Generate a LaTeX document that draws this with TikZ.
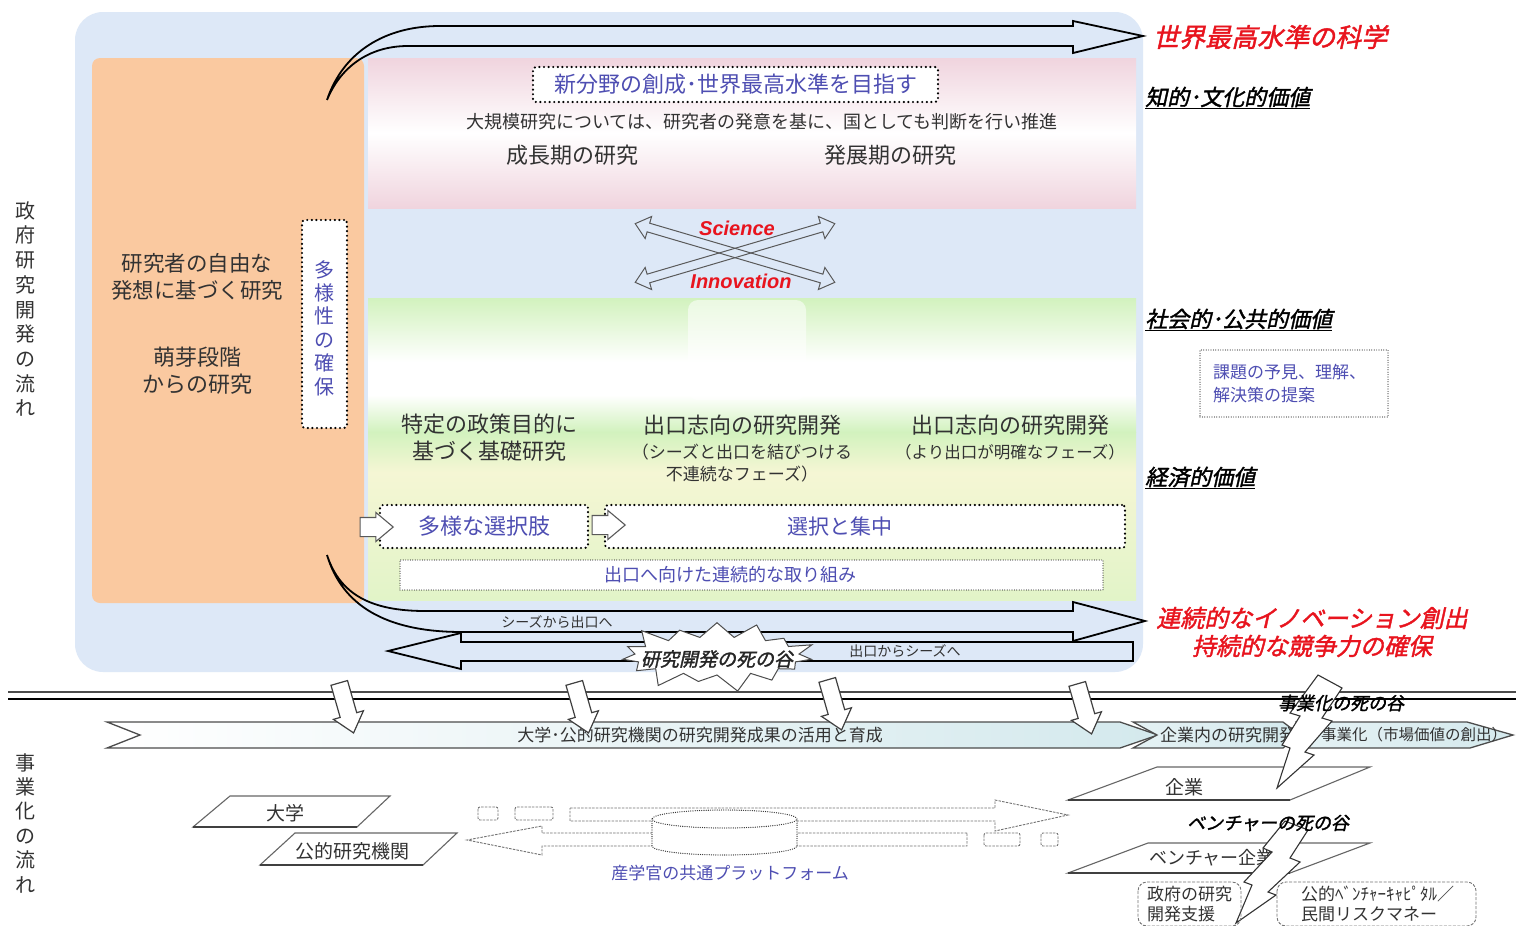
\documentclass[tikz,border=0pt]{standalone}
\usepackage{fontspec}
\setmainfont{Noto Sans CJK JP}
\newfontfamily\jpbi[FakeSlant=0.22,FakeBold=1.6]{Noto Sans CJK JP}
\newfontfamily\libsans{Liberation Sans}
\usetikzlibrary{shapes.arrows,shapes.symbols}
\newcommand\fsz[2]{\fontsize{#1}{#2}\selectfont}
\definecolor{bgblue}{RGB}{221,232,247}
\definecolor{orng}{RGB}{250,201,160}
\definecolor{pinkb}{RGB}{240,212,222}
\definecolor{greenb}{RGB}{210,242,190}
\definecolor{yellb}{RGB}{245,246,212}
\definecolor{txtb}{RGB}{78,78,178}
\definecolor{txtg}{RGB}{50,50,50}
\definecolor{redt}{RGB}{232,20,30}
\definecolor{band}{RGB}{212,233,237}
\begin{document}
\begin{tikzpicture}[x=1pt,y=-1pt,
  every node/.style={inner sep=0pt, text=txtg},
  dotbox/.style={draw=black, line width=2.4pt, dash pattern=on 0pt off 4.6pt, line cap=round, fill=white, rounded corners=3pt},
  thindot/.style={draw=black!75, line width=1.2pt, dash pattern=on 0pt off 2.4pt, line cap=round, fill=white},
  hollow/.style={draw=black, line width=1.8pt, line join=miter},
  vlab/.style={anchor=west, text=black, font={\jpbi\fsz{22}{26}}},
  redlab/.style={text=redt, font={\jpbi\fsz{24}{28}}},
  downarrow/.style={single arrow, draw=black!75, fill=white, line width=1.2pt, minimum height=52pt, single arrow head extend=7pt, single arrow tip angle=80, rotate=-74},
  smallarrow/.style={single arrow, draw=black!65, fill=white, line width=1.1pt, minimum height=33pt, single arrow head extend=5pt, single arrow tip angle=80},
  xarrow/.style={double arrow, draw=black!65, line width=1pt, minimum height=208pt, double arrow head extend=7pt, double arrow tip angle=80},
  pgram/.style={draw=black!60, fill=white, line width=1.1pt},
  pshadow/.style={draw=black!75, line width=2pt},
  bolt/.style={draw=black!80, fill=white, line width=1.1pt, line join=miter},
  chev/.style={draw=black!70, line width=1.3pt},
  platdash/.style={draw=black!55, line width=0.9pt, dash pattern=on 2.5pt off 1.2pt},
  cyl/.style={draw=black!80, line width=1.3pt, dash pattern=on 0pt off 2.2pt, line cap=round},
  rbox/.style={draw=black!55, line width=0.9pt, dash pattern=on 3pt off 1.5pt, rounded corners=9pt}
]
\useasboundingbox (0,0) rectangle (1529,926);
\fill[white] (0,0) rectangle (1529,926);
% ---------- upper region backgrounds
\fill[bgblue, rounded corners=28pt] (75,12) rectangle (1143,672);
\fill[orng, rounded corners=8pt] (92,58) rectangle (364,603);
\shade[top color=pinkb, bottom color=pinkb, middle color=white] (368,58) rectangle (1136,208);
\shade[top color=greenb, bottom color=white] (368,298) rectangle (1136,362);
\fill[white] (368,362) rectangle (1136,395);
\shade[top color=white, bottom color=greenb] (368,395) rectangle (1136,432);
\shade[top color=greenb, bottom color=yellb] (368,432) rectangle (1136,472);
\shade[top color=yellb, bottom color=greenb!55!yellb] (368,472) rectangle (1136,600);
\fill[white, opacity=0.55, rounded corners=10pt] (688,300) rectangle (806,400);
% ---------- big curved arrows
\draw[hollow] (327,100) .. controls (343,52) and (385,26) .. (440,26) -- (1073,26) -- (1073,21) -- (1143,36) -- (1073,53) -- (1073,46) -- (408,46) .. controls (368,46) and (340,68) .. (327,100);
\draw[hollow] (327,555) .. controls (340,595) and (372,611) .. (425,611) -- (1073,611) -- (1073,602) -- (1145,621) -- (1073,641) -- (1073,632) -- (462,632) .. controls (385,632) and (342,605) .. (327,555);
\draw[hollow, fill=bgblue] (1133,642) -- (461,642) -- (461,633) -- (388,651) -- (461,669) -- (461,661) -- (1133,661) -- cycle;
\node[font=\fsz{14}{16}] (s2e) at (557,622) {シーズから出口へ};
\node[font=\fsz{14}{16}] (e2s) at (905,651) {出口からシーズへ};
% ---------- top band texts
\node[dotbox, minimum width=405pt, minimum height=35pt, text=txtb, font=\fsz{22}{26}] (newfield) at (735.5,84.5) {新分野の創成･世界最高水準を目指す};
\node[font=\fsz{18}{22}] (large) at (762,122) {大規模研究については、研究者の発意を基に、国としても判断を行い推進};
\node[font=\fsz{22}{26}] (growth) at (572,155) {成長期の研究};
\node[font=\fsz{22}{26}] (devel) at (890,155) {発展期の研究};
% ---------- orange texts
\node[align=center, font=\fsz{21.5}{27}] (free) at (197,277) {研究者の自由な\\発想に基づく研究};
\node[align=center, font=\fsz{22}{27}] (sprout) at (197,371) {萌芽段階\\からの研究};
\node[dotbox, minimum width=45pt, minimum height=208pt] (divbox) at (324.5,324) {};
\node[align=center, text=txtb, font=\fsz{20}{23.4}] (divt) at (324.5,328) {多\\様\\性\\の\\確\\保};
% ---------- science / innovation
\node[xarrow, rotate=-16.4] (xa) at (735,253) {\rule{0pt}{8pt}};
\node[xarrow, rotate=16.4] (xb) at (735,253) {\rule{0pt}{8pt}};
\node[text=redt, font={\libsans\bfseries\itshape\fsz{20}{24}}] (sci) at (737,228) {Science};
\node[text=redt, font={\libsans\bfseries\itshape\fsz{20}{24}}] (inn) at (741,281) {Innovation};
% ---------- green band texts
\node[align=center, font=\fsz{22}{27}] (policy) at (489,438) {特定の政策目的に\\基づく基礎研究};
\node[font=\fsz{22}{26}] (exit1) at (742,425) {出口志向の研究開発};
\node[align=center, font=\fsz{17}{22}] (exit1s) at (742,463) {（シーズと出口を結びつける\\不連続なフェーズ）};
\node[font=\fsz{22}{26}] (exit2) at (1010,425) {出口志向の研究開発};
\node[font=\fsz{16.5}{20}] (exit2s) at (1010,452) {（より出口が明確なフェーズ）};
% ---------- selection boxes
\node[dotbox, minimum width=208pt, minimum height=43pt, text=txtb, font=\fsz{22}{26}] (choice) at (484,526.5) {多様な選択肢};
\node[dotbox, minimum width=520pt, minimum height=43pt] (select) at (865,526.5) {};
\node[text=txtb, font=\fsz{21}{26}] (selectt) at (840,527) {選択と集中};
\node[smallarrow] (ar1) at (371,527) {\rule{0pt}{18pt}};
\node[smallarrow] (ar2) at (603,525) {\rule{0pt}{18pt}};
\node[thindot, minimum width=703pt, minimum height=30pt] (cont) at (751.5,575) {};
\node[text=txtb, font=\fsz{18}{22}] (contt) at (730,575) {出口へ向けた連続的な取り組み};
% ---------- right labels
\node[anchor=west, redlab, font={\jpbi\fsz{26}{30}}] (world) at (1153,37) {世界最高水準の科学};
\node[vlab] (v1) at (1145,98) {\underline{知的･文化的価値}};
\node[vlab] (v2) at (1145,320) {\underline{社会的･公共的価値}};
\node[vlab] (v3) at (1145,478) {\underline{経済的価値}};
\node[thindot, minimum width=188pt, minimum height=67pt] (issue) at (1294,383.5) {};
\node[anchor=west, align=left, text=txtb, font=\fsz{17}{23}] (issuet) at (1213,384) {課題の予見、理解、\\解決策の提案};
\node[redlab, align=center] (inno) at (1312,632) {連続的なイノベーション創出\\持続的な競争力の確保};
% ---------- left vertical labels
\node[align=center, font=\fsz{20}{24.7}] (gov) at (26,309) {政\\府\\研\\究\\開\\発\\の\\流\\れ};
\node[align=center, font=\fsz{20}{24.4}] (bizflow) at (26,823) {事\\業\\化\\の\\流\\れ};
% ---------- divider and valley burst
\draw[black!70, line width=1.5pt] (8,692) -- (1516,692);
\draw[black, line width=2pt] (8,699) -- (1516,699);
\node[starburst, starburst points=15, starburst point height=20pt, draw=black!70, fill=white, line width=1pt, minimum width=205pt, minimum height=78pt] (valley) at (717,656) {};
\node[font={\jpbi\fsz{19}{22}}, text=black!85] (valleyt) at (717,659) {研究開発の死の谷};
% ---------- chevron band
\shade[chev, left color=white, right color=band] (107,722) -- (1120,722) -- (1158,735) -- (1120,748) -- (107,748) -- (140,735) -- cycle;
\shade[chev, left color=band!60, right color=band] (1133,722) -- (1283,722) -- (1300,735) -- (1283,748) -- (1133,748) -- (1157,735) -- cycle;
\shade[chev, left color=band!60, right color=band] (1297,722) -- (1467,722) -- (1513,735) -- (1470,748) -- (1297,748) -- (1317,735) -- cycle;
\node[font=\fsz{17}{20}] (bandt) at (700,735) {大学･公的研究機関の研究開発成果の活用と育成};
\node[font=\fsz{17}{20}] (inhouse) at (1228,735) {企業内の研究開発};
\node[font=\fsz{15.5}{20}] (biz) at (1414,735) {事業化（市場価値の創出）};
\node[downarrow] (d1) at (345,703) {\rule{0pt}{16pt}};
\node[downarrow] (d2) at (580,703) {\rule{0pt}{16pt}};
\node[downarrow] (d3) at (833,700) {\rule{0pt}{16pt}};
\node[downarrow] (d4) at (1083,704) {\rule{0pt}{16pt}};
% ---------- parallelograms
\draw[pgram] (193,827) -- (230,796) -- (390,796) -- (357,827) -- cycle;
\draw[pshadow] (193,827) -- (357,827);
\node[font=\fsz{19}{22}] (univ) at (285,813) {大学};
\draw[pgram] (260,865) -- (295,833) -- (457,833) -- (423,865) -- cycle;
\draw[pshadow] (260,865) -- (423,865);
\node[font=\fsz{19}{22}] (pri) at (352,851) {公的研究機関};
\draw[pgram] (1068,800) -- (1157,767) -- (1370,767) -- (1290,800) -- cycle;
\draw[pshadow] (1068,800) -- (1290,800);
\node[font=\fsz{19}{22}] (corp) at (1184,787) {企業};
\draw[pgram] (1068,873) -- (1148,843) -- (1370,843) -- (1290,873) -- cycle;
\draw[pshadow] (1068,873) -- (1290,873);
\node[font=\fsz{18}{22}] (venture) at (1212,858) {ベンチャー企業};
% ---------- lightning bolts
\draw[bolt] (1318,675) -- (1342,688) -- (1322,718) -- (1332,721) -- (1305,752) -- (1314,755) -- (1277,788) -- (1290,748) -- (1282,745) -- (1300,716) -- (1290,713) -- cycle;
\draw[bolt] (1285,821) -- (1308,830) -- (1290,858) -- (1300,862) -- (1268,892) -- (1276,895) -- (1236,923) -- (1252,885) -- (1244,882) -- (1272,852) -- (1263,848) -- cycle;
\node[font={\jpbi\fsz{18}{21}}, text=black] (bizvalley) at (1341,703) {事業化の死の谷};
\node[font={\jpbi\fsz{18}{21}}, text=black] (ventvalley) at (1268,823) {ベンチャーの死の谷};
% ---------- support boxes
\draw[rbox] (1138,882) rectangle (1241,926);
\node[anchor=west, align=left, font=\fsz{17}{20}] (govsup) at (1147,904) {政府の研究\\開発支援};
\draw[rbox] (1277,882) rectangle (1476,926);
\node[anchor=west, align=left, font=\fsz{17}{20}] (vc) at (1301,904) {公的ﾍﾞﾝﾁｬｰｷｬﾋﾟﾀﾙ／\\民間リスクマネー};
% ---------- platform
\draw[platdash, rounded corners=2pt] (478,807) rectangle (498,820);
\draw[platdash, rounded corners=2pt] (515,807) rectangle (553,820);
\draw[platdash] (570,808) -- (995,808) -- (995,800) -- (1068,815) -- (995,831) -- (995,821) -- (570,821) -- cycle;
\draw[platdash] (967,833) -- (542,833) -- (542,826) -- (467,840) -- (542,855) -- (542,846) -- (967,846) -- cycle;
\draw[platdash, rounded corners=2pt] (984,833) rectangle (1020,846);
\draw[platdash, rounded corners=2pt] (1041,833) rectangle (1058,846);
\path[fill=white] (652,819) -- (652,846) arc[start angle=180, end angle=360, x radius=72.5pt, y radius=9pt] -- (797,819) -- cycle;
\draw[cyl] (652,819) -- (652,846) arc[start angle=180, end angle=360, x radius=72.5pt, y radius=9pt] -- (797,819);
\draw[cyl, fill=white] (724.5,819) ellipse [x radius=72.5pt, y radius=9pt];
\node[text=txtb, font=\fsz{17}{20}] (plat) at (730,873) {産学官の共通プラットフォーム};
\end{tikzpicture}
\end{document}
